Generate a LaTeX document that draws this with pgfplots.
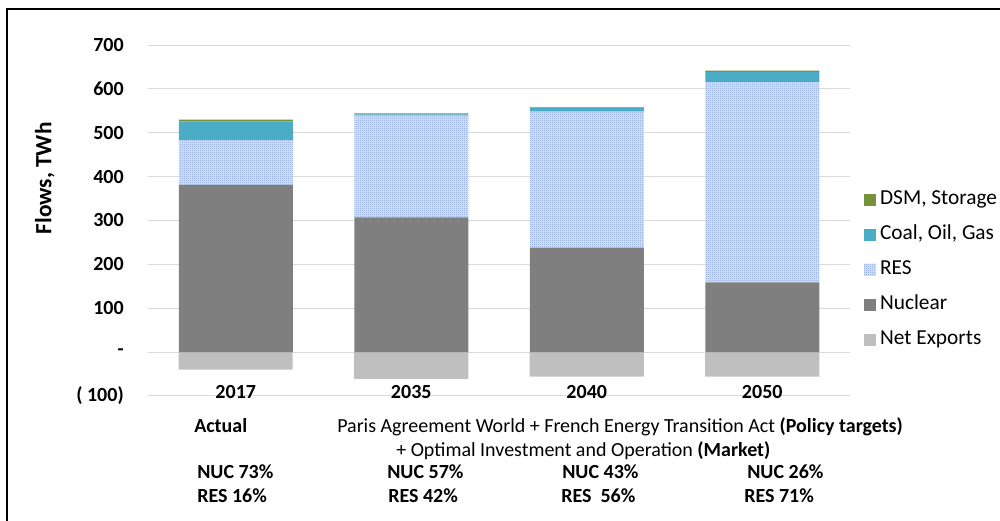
\documentclass[border=0pt]{standalone}
\usepackage{fontspec}
\setmainfont{Carlito}
\usepackage{pgfplots}
\usepackage{pgfplotstable}
\pgfplotsset{compat=1.18}
\usetikzlibrary{patterns}

\pgfdeclarepatternformonly{checker}{\pgfqpoint{0pt}{0pt}}{\pgfqpoint{1.5pt}{1.5pt}}{\pgfqpoint{1.5pt}{1.5pt}}{%
 \pgfpathrectangle{\pgfqpoint{0pt}{0pt}}{\pgfqpoint{0.75pt}{0.75pt}}%
 \pgfpathrectangle{\pgfqpoint{0.75pt}{0.75pt}}{\pgfqpoint{0.75pt}{0.75pt}}%
 \pgfusepath{fill}}

\definecolor{dsm}{RGB}{118,146,60}
\definecolor{coal}{RGB}{75,172,198}
\definecolor{resblue}{RGB}{125,158,215}
\definecolor{resbg}{RGB}{220,229,244}
\definecolor{nuc}{RGB}{127,127,127}
\definecolor{netx}{RGB}{191,191,191}
\definecolor{gridc}{RGB}{217,217,217}

\pgfplotstableread{
x nex nuc res coal dsm
0 -40 381 102 43 4
1 -61 307 232 3 2
2 -56 238 310 9 1.5
3 -56 159 456 24 2.5
}\datatable

\pgfplotsset{
  base/.style={scale only axis, width=526.5pt, height=263.25pt,
    xmin=-0.5, xmax=3.5, ymin=-100, ymax=700,
    at={(111pt,93.75pt)}, anchor=south west},
  sq/.style={legend image code/.code={\fill[##1] (0pt,-4.5pt) rectangle (9pt,4.5pt);}}
}

\begin{document}
\begin{tikzpicture}
\path[use as bounding box] (0,0) rectangle (750pt,390.75pt);

\begin{axis}[base,
  axis line style={draw=none},
  ymajorgrids, major grid style={gridc, line width=0.75pt},
  tick style={draw=none},
  ytick={-100,0,100,200,300,400,500,600,700},
  yticklabels={( 100),-,100,200,300,400,500,600,700},
  yticklabel style={inner sep=0pt, xshift=-18pt, font=\bfseries\fontsize{15}{18}\selectfont},
  xtick={0,1,2,3},
  xticklabels={2017,2035,2040,2050},
  xticklabel style={anchor=base, inner sep=0pt, yshift=2.5pt, font=\bfseries\fontsize{15}{18}\selectfont},
  ylabel={Flows, TWh},
  every axis y label/.style={at={(axis description cs:-0.147,0.62)}, rotate=90, anchor=center, font=\bfseries\fontsize{17.5}{20}\selectfont},
  ybar, bar width=85.5pt,
]
\addplot[fill=netx, draw=none] table[x=x, y=nex] {\datatable};
\end{axis}

\begin{axis}[base, hide axis,
  ybar stacked, bar width=85.5pt,
  reverse legend,
  legend cell align=left,
  legend style={at={(1.014,0.36)}, anchor=west, draw=none, fill=none,
    font=\fontsize{16}{19}\selectfont,
    row sep=12.75pt, column sep=3pt,
    nodes={inner sep=0pt, text height=10.5pt, text depth=3pt}},
]
\addlegendimage{sq, fill=netx, draw=none}
\addlegendentry{Net Exports}
\addplot[sq, fill=nuc, draw=none] table[x=x, y=nuc] {\datatable};
\addlegendentry{Nuclear}
\addplot[sq, fill=resbg, draw=none, postaction={pattern=checker, pattern color=resblue}] table[x=x, y=res] {\datatable};
\addlegendentry{RES}
\addplot[sq, fill=coal, draw=none] table[x=x, y=coal] {\datatable};
\addlegendentry{Coal, Oil, Gas}
\addplot[sq, fill=dsm, draw=none] table[x=x, y=dsm] {\datatable};
\addlegendentry{DSM, Storage}
\end{axis}

\begin{scope}[shift={(0pt,390.75pt)}, x=0.75pt, y=-0.75pt]
\draw[line width=1.5pt] (7,521) -- (7,9) -- (1000,9);
\begin{scope}[every node/.style={anchor=base west, inner sep=0pt, font=\fontsize{15}{18}\selectfont}]
\node at (194,432.5) {\bfseries Actual};
\node at (337,432.5) {Paris Agreement World + French Energy Transition Act \textbf{(Policy targets)}};
\node at (396,456.5) {+ Optimal Investment and Operation \textbf{(Market)}};
\node at (197,478.3) {\bfseries NUC 73\%};
\node at (387,478.3) {\bfseries NUC 57\%};
\node at (562,478.3) {\bfseries NUC 43\%};
\node at (747,478.3) {\bfseries NUC 26\%};
\node at (197,502.7) {\bfseries RES 16\%};
\node at (388,502.7) {\bfseries RES 42\%};
\node at (561,502.7) {\bfseries RES\ \ 56\%};
\node at (744,502.7) {\bfseries RES 71\%};
\end{scope}
\end{scope}
\end{tikzpicture}
\end{document}
